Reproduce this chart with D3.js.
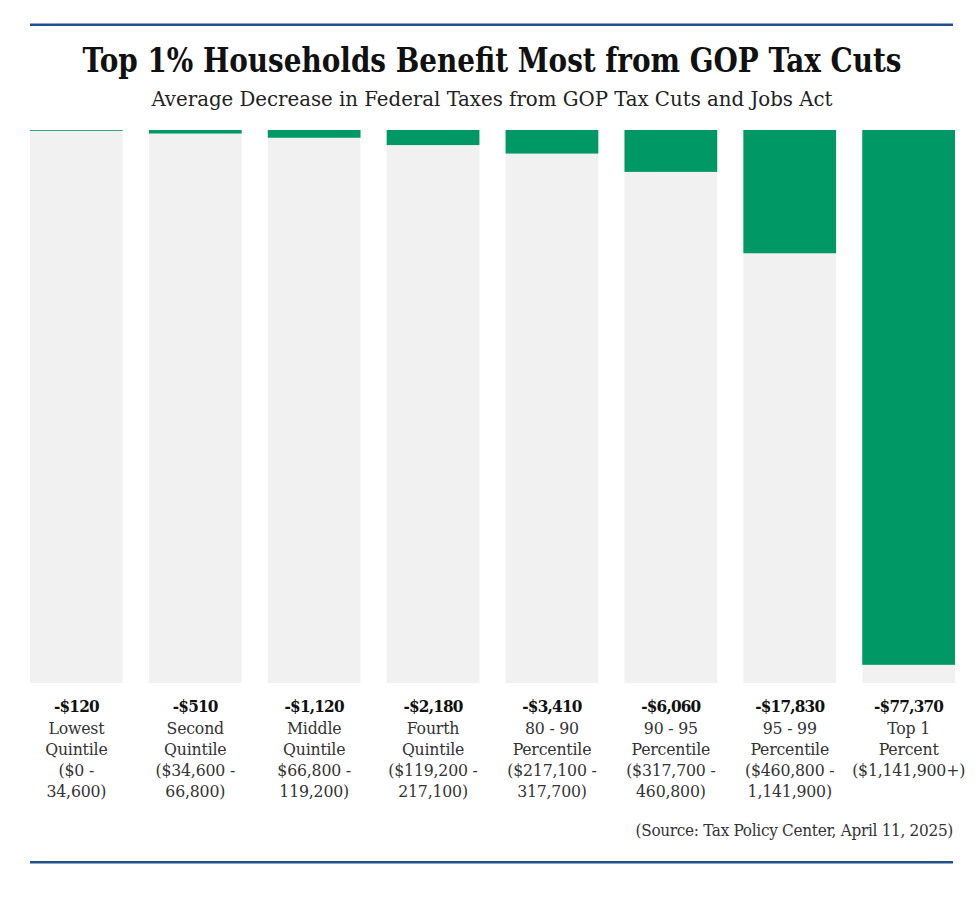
<html>
<head>
<meta charset="utf-8" />
<title>Top 1% Households Benefit Most from GOP Tax Cuts</title>
<script src="https://cdn.jsdelivr.net/npm/d3@7"></script>
<style>
  body { margin: 0; background: #fff; }
  text { font-family: "DejaVu Serif Condensed", "Liberation Serif", serif; }
</style>
</head>
<body>
<script>
// data
var groups = ["Lowest", "Second", "Middle", "Fourth", "80-90", "90-95", "95-99", "Top 1"];
var decrease = [120, 510, 1120, 2180, 3410, 6060, 17830, 77370];
var valueLabels = ["-$120", "-$510", "-$1,120", "-$2,180", "-$3,410", "-$6,060", "-$17,830", "-$77,370"];
var groupLabels = [
  ["Lowest", "Quintile", "($0 -", "34,600)"],
  ["Second", "Quintile", "($34,600 -", "66,800)"],
  ["Middle", "Quintile", "$66,800 -", "119,200)"],
  ["Fourth", "Quintile", "($119,200 -", "217,100)"],
  ["80 - 90", "Percentile", "($217,100 -", "317,700)"],
  ["90 - 95", "Percentile", "($317,700 -", "460,800)"],
  ["95 - 99", "Percentile", "($460,800 -", "1,141,900)"],
  ["Top 1", "Percent", "($1,141,900+)"]
];
var scaleMax = 80000;

var W = 980, H = 912;
var green = "#009966", grey = "#f1f1f1", rule = "#1f5190";

var svg = d3.select("body").append("svg")
  .attr("width", W)
  .attr("height", H);

// rules top and bottom
svg.append("rect").attr("x", 30).attr("y", 23.5).attr("width", 923).attr("height", 2.5).attr("fill", rule);
svg.append("rect").attr("x", 30).attr("y", 861).attr("width", 923).attr("height", 2.5).attr("fill", rule);

svg.append("text")
  .attr("x", W / 2 + 2).attr("y", 72)
  .attr("text-anchor", "middle")
  .attr("font-size", 33).attr("font-weight", "bold")
  .attr("fill", "#111")
  .attr("textLength", 819).attr("lengthAdjust", "spacingAndGlyphs")
  .text("Top 1% Households Benefit Most from GOP Tax Cuts");

svg.append("text")
  .attr("x", 492).attr("y", 106)
  .attr("text-anchor", "middle")
  .attr("font-size", 20)
  .attr("fill", "#222")
  .attr("textLength", 681).attr("lengthAdjust", "spacingAndGlyphs")
  .text("Average Decrease in  Federal Taxes from GOP Tax Cuts and Jobs Act");

var barTop = 130, barBottom = 683;
var x = d3.scaleBand().domain(groups).range([30, 955]).paddingInner(0.22).paddingOuter(0);
var y = d3.scaleLinear().domain([0, scaleMax]).range([barTop, barBottom]);

var cols = svg.selectAll("g.col").data(groups).enter().append("g").attr("class", "col");

cols.append("rect")
  .attr("x", d => x(d)).attr("y", y(0))
  .attr("width", x.bandwidth()).attr("height", y(scaleMax) - y(0))
  .attr("fill", grey);

cols.append("rect")
  .attr("x", d => x(d)).attr("y", y(0))
  .attr("width", x.bandwidth())
  .attr("height", (d, i) => y(decrease[i]) - y(0))
  .attr("fill", green);

cols.append("text")
  .attr("x", d => x(d) + x.bandwidth() / 2)
  .attr("y", 712)
  .attr("text-anchor", "middle")
  .attr("font-size", 17).attr("font-weight", "bold")
  .attr("letter-spacing", -0.8)
  .attr("fill", "#111")
  .text((d, i) => valueLabels[i]);

cols.each(function(d, i) {
  var g = d3.select(this);
  groupLabels[i].forEach(function(line, j) {
    g.append("text")
      .attr("x", x(d) + x.bandwidth() / 2)
      .attr("y", 734 + j * 21)
      .attr("text-anchor", "middle")
      .attr("font-size", 17.5)
      .attr("letter-spacing", -0.2)
      .attr("fill", "#333")
      .text(line);
  });
});

svg.append("text")
  .attr("x", 953).attr("y", 836)
  .attr("text-anchor", "end")
  .attr("font-size", 17)
  .attr("letter-spacing", -0.3)
  .attr("fill", "#333")
  .text("(Source: Tax Policy Center, April 11, 2025)");
</script>
</body>
</html>
